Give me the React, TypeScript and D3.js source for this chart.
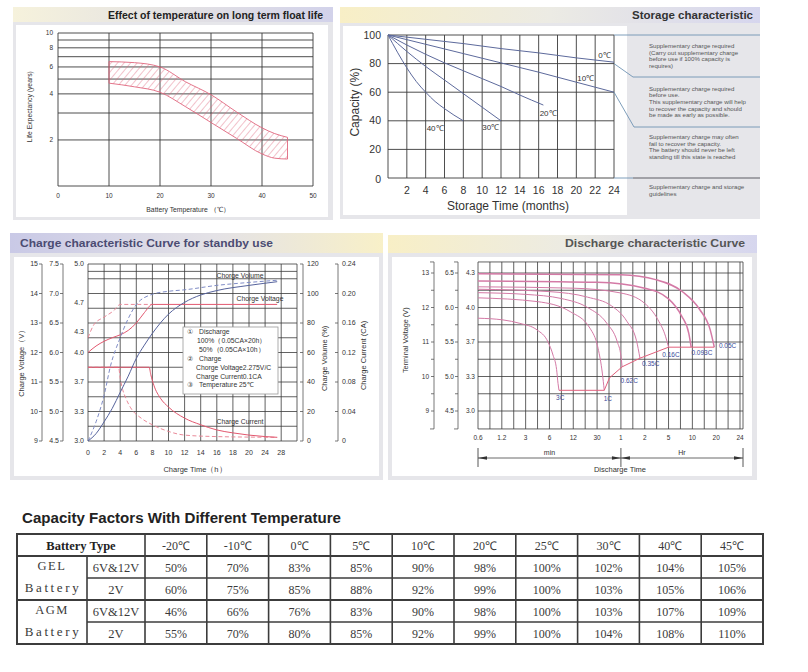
import React from 'react';
import * as d3 from 'd3';

type Pt = [number, number];

const SANS = '"Liberation Sans", Arial, Helvetica, sans-serif';
const SERIF = '"Liberation Serif", "Times New Roman", serif';
const PANEL = '#e6e6ea';
const GRID = '#3a3a3a';

// ---------- Effect of temperature on long term float life ----------
const lifeXTicks = [0, 10, 20, 30, 40, 50];
const lifeYTicks = [2, 4, 6, 8, 10];
const lifeYGrid = [2, 3, 4, 5, 6, 7, 8, 9, 10];
const lifeUpper: Pt[] = [[10, 6.5], [15, 6.4], [20, 6.0], [25, 4.8], [30, 3.95], [35, 3.05], [40, 2.4], [42.5, 2.2], [45, 2.08]];
const lifeLower: Pt[] = [[10, 4.7], [15, 4.45], [20, 4.1], [25, 3.3], [30, 2.6], [35, 2.05], [40, 1.62], [42.5, 1.52], [45, 1.5]];

// ---------- Storage characteristic ----------
const storageXTicks = [2, 4, 6, 8, 10, 12, 14, 16, 18, 20, 22, 24];
const storageYTicks = [0, 20, 40, 60, 80, 100];
const storageCurves: { name: string; at: Pt; pts: Pt[] }[] = [
  { name: '0℃', at: [23, 86], pts: [[0, 100], [4, 97], [8, 94], [12, 90.5], [16, 87.5], [20, 84], [24, 81]] },
  { name: '10℃', at: [21, 70], pts: [[0, 100], [4, 93.5], [8, 87], [12, 80.5], [16, 74], [20, 67], [24, 60]] },
  { name: '20℃', at: [17, 45.5], pts: [[0, 100], [2, 93], [4, 86.5], [6, 80.5], [8, 75], [10, 69.5], [12, 64], [14, 58], [16.5, 51]] },
  { name: '30℃', at: [10.9, 35.7], pts: [[0, 100], [2, 88.5], [4, 78], [6, 68.5], [8, 59], [10, 49.5], [12, 40]] },
  { name: '40℃', at: [5, 35], pts: [[0, 100], [1, 88], [2, 77], [3, 67.5], [4, 60], [5, 53.5], [6, 48.5], [7, 44], [8, 40]] },
];
const storageNotes = [
  ['Supplementary charge required', '(Carry out supplementary charge', 'before use if 100% capacity is', 'requires)'],
  ['Supplementary charge required', 'before use.', 'This supplementary charge will help', 'to recover the capacity and should', 'be made  as early as possible.'],
  ['Supplementary charge may often', 'fail to recover the capacity.', 'The battery should never be left', 'standing till this state is reached'],
  ['Supplementary charge and storage', 'guidelines'],
];

// ---------- Charge characteristic ----------
const chargeXTicks = [0, 2, 4, 6, 8, 10, 12, 14, 16, 18, 20, 24, 28];
const packVolts = [9, 10, 11, 12, 13, 14, 15];
const blockVolts = ['4.5', '5.0', '5.5', '6.0', '6.5', '7.0', '7.5'];
const cellVolts = ['3.0', '3.3', '3.7', '4.0', '4.3', '4.7', '5.0'];
const cellVoltsAt = [9, 10, 11, 12, 12.7, 13.7, 15];
const chargeGridV = [9, 9.5, 10, 10.5, 11, 11.5, 12, 12.5, 13, 13.5, 14, 14.5, 14.75, 15];
const volumeTicks = [0, 20, 40, 60, 80, 100, 120];
const currentTicks = [0, 0.04, 0.08, 0.12, 0.16, 0.2, 0.24];
const voltage100: Pt[] = [[0, 12.0], [1, 12.22], [2, 12.38], [3, 12.5], [4, 12.6], [5, 12.75], [6, 13.0], [7, 13.35], [8, 13.63], [27, 13.63]];
const voltage50: Pt[] = [[0, 12.5], [0.75, 12.95], [2, 13.2], [3.25, 13.43], [4, 13.63], [8, 13.63]];
const current100: Pt[] = [[0, 0.1], [7.6, 0.1], [7.8, 0.09], [8.2, 0.075], [9, 0.058], [10, 0.046], [12, 0.031], [14, 0.022], [16, 0.015], [18, 0.011], [20, 0.008], [24, 0.006], [27, 0.005]];
const current50: Pt[] = [[0, 0.1], [3.8, 0.1], [4.0, 0.085], [4.3, 0.07], [4.7, 0.058], [5.3, 0.045], [6.6, 0.031], [8, 0.022], [10, 0.013], [12, 0.008], [16, 0.006], [27, 0.005]];
const volume100: Pt[] = [[0, 0], [1, 5], [2, 13], [3, 22], [4, 33], [5, 44], [6, 56], [7, 65], [8, 73], [10, 86], [12, 94], [14, 99], [16, 102], [20, 105.5], [27, 108]];
const volume50: Pt[] = [[0, 0], [1, 13], [2, 31], [2.8, 51], [4, 70], [5, 83], [6, 92.5], [8, 99.5], [10, 101.5], [12, 102.5], [16, 105.5], [20, 107.5], [27, 109]];
const chargeNotes = [
  { mark: '①', text: 'Discharge' },
  { mark: '', text: '100%（0.05CA×20h）' },
  { mark: '', text: '50%（0.05CA×10h）' },
  { mark: '②', text: 'Charge' },
  { mark: '', text: 'Chorge Voltage2.275V/C' },
  { mark: '', text: 'Charge Current0.1CA' },
  { mark: '③', text: 'Temperature 25℃' },
];

// ---------- Discharge characteristic ----------
const dischargeXLabels = ['0.6', '1.2', '3', '6', '12', '30', '1', '2', '5', '10', '20', '24'];
const termVolts = [9, 10, 11, 12, 13];
const termBlock = ['4.5', '5.0', '5.5', '6.0', '6.5'];
const termCell = ['3.0', '3.3', '3.7', '4.0', '4.3'];
const termGrid = [9, 9.5, 10, 10.5, 11, 11.5, 12, 12.5, 13];
const dischargeCurves: { rate: string; at: Pt; pts: Pt[]; w: number }[] = [
  { rate: '3C', at: [3.45, 9.38], w: 1, pts: [[0, 11.69], [1.05, 11.64], [1.76, 11.54], [2.48, 11.35], [2.94, 11.0], [3.15, 10.62], [3.3, 10.2], [3.36, 9.8], [3.4, 9.6]] },
  { rate: '1C', at: [5.45, 9.35], w: 1, pts: [[0, 12.28], [2.5, 12.17], [3.87, 11.88], [4.7, 11.4], [5.04, 10.82], [5.22, 10.1], [5.3, 9.6]] },
  { rate: '0.62C', at: [6.35, 9.87], w: 1, pts: [[0, 12.43], [2, 12.38], [3.5, 12.26], [4.6, 12.0], [5.4, 11.55], [5.85, 11.0], [6.0, 10.6], [6.05, 10.28]] },
  { rate: '0.35C', at: [7.25, 10.36], w: 1, pts: [[0, 12.53], [3, 12.46], [4.6, 12.3], [5.6, 12.05], [6.25, 11.6], [6.65, 11.05], [6.8, 10.53]] },
  { rate: '0.16C', at: [8.1, 10.62], w: 1, pts: [[0, 12.6], [4, 12.56], [6, 12.42], [7, 12.12], [7.55, 11.65], [7.88, 11.15], [8.0, 10.85]] },
  { rate: '0.093C', at: [9.4, 10.68], w: 1.5, pts: [[0, 12.77], [5, 12.73], [7, 12.56], [8, 12.25], [8.55, 11.75], [8.85, 11.25], [8.95, 10.85]] },
  { rate: '0.05C', at: [10.48, 10.88], w: 1.5, pts: [[0, 12.98], [6, 12.95], [7.5, 12.8], [8.6, 12.45], [9.3, 11.95], [9.75, 11.35], [9.92, 10.85]] },
];
const endVoltage: Pt[] = [[3.4, 9.6], [5.3, 9.6], [5.52, 9.96], [6.05, 10.28], [6.8, 10.53], [8.0, 10.85], [8.95, 10.85], [9.92, 10.85]];

// ---------- Capacity factors table ----------
const tableTemps = ['-20℃', '-10℃', '0℃', '5℃', '10℃', '20℃', '25℃', '30℃', '40℃', '45℃'];
const gel12 = [50, 70, 83, 85, 90, 98, 100, 102, 104, 105];
const gel2 = [60, 75, 85, 88, 92, 99, 100, 103, 105, 106];
const agm12 = [46, 66, 76, 83, 90, 98, 100, 103, 107, 109];
const agm2 = [55, 70, 80, 85, 92, 99, 100, 104, 108, 110];

function FloatLife() {
  const x = d3.scaleLinear().domain([0, 50]).range([58, 313]);
  const y = d3.scaleLog().domain([1, 10]).range([186, 33]);
  const band = lifeUpper.map((d, i) => ({ t: d[0], hi: d[1], lo: lifeLower[i][1] }));
  const area = d3
    .area<{ t: number; hi: number; lo: number }>()
    .x((d) => x(d.t))
    .y0((d) => y(d.lo))
    .y1((d) => y(d.hi))
    .curve(d3.curveMonotoneX);
  return (
    <g>
      <rect x={13} y={22} width={320} height={198} fill={PANEL} />
      <rect x={13} y={7} width={320} height={15} fill="url(#gYL)" />
      <text x={323} y={19} textAnchor="end" fontSize={10} fontWeight="bold" fill="#222" textLength={215} lengthAdjust="spacingAndGlyphs">
        Effect of temperature on long term float life
      </text>
      <rect x={16} y={25} width={312} height={192} fill="#fff" />
      {lifeYGrid.map((v) => (
        <line key={v} x1={x(0)} x2={x(50)} y1={y(v)} y2={y(v)} stroke={GRID} strokeWidth={0.9} />
      ))}
      <line x1={x(0)} x2={x(50)} y1={y(1)} y2={y(1)} stroke={GRID} strokeWidth={0.9} />
      {lifeXTicks.map((v) => (
        <line key={v} x1={x(v)} x2={x(v)} y1={y(10)} y2={y(1)} stroke={GRID} strokeWidth={0.9} />
      ))}
      <path d={area(band) || ''} fill="url(#hatch)" stroke="#e0667e" strokeWidth={0.9} />
      {lifeYTicks.map((v) => (
        <text key={v} x={53} y={y(v)} dy="0.35em" textAnchor="end" fontSize={6.5} fill="#333">{v}</text>
      ))}
      {lifeXTicks.map((v) => (
        <text key={v} x={x(v)} y={198} textAnchor="middle" fontSize={6.5} fill="#333">{v}</text>
      ))}
      <text transform={`translate(32,${y(3.3)}) rotate(-90)`} textAnchor="middle" fontSize={6.8} fill="#333">Life Expectancy (years)</text>
      <text x={188} y={212} textAnchor="middle" fontSize={6.8} fill="#333">Battery Temperature （℃）</text>
    </g>
  );
}

function Storage() {
  const x = d3.scaleLinear().domain([0, 24]).range([388, 614]);
  const y = d3.scaleLinear().domain([0, 100]).range([178, 35]);
  const line = d3.line<Pt>().x((d) => x(d[0])).y((d) => y(d[1])).curve(d3.curveMonotoneX);
  const noteTops = [48, 90.5, 139, 189];
  const lead = '#6f93b3';
  return (
    <g>
      <rect x={340} y={23} width={420} height={196} fill={PANEL} />
      <rect x={340} y={7} width={420} height={16} fill="url(#gYL2)" />
      <text x={753} y={19} textAnchor="end" fontSize={11} fontWeight="bold" fill="#333" textLength={121} lengthAdjust="spacingAndGlyphs">
        Storage characteristic
      </text>
      <rect x={343} y={26} width={284} height={189} fill="#fff" />
      {storageYTicks.map((v) => (
        <line key={v} x1={x(0)} x2={x(24)} y1={y(v)} y2={y(v)} stroke={GRID} strokeWidth={0.9} />
      ))}
      {[0, ...storageXTicks].map((v) => (
        <line key={v} x1={x(v)} x2={x(v)} y1={y(100)} y2={y(0)} stroke={GRID} strokeWidth={0.9} />
      ))}
      {storageCurves.map((c) => (
        <g key={c.name}>
          <path d={line(c.pts) || ''} fill="none" stroke="#5d6a9c" strokeWidth={1} />
          <text x={x(c.at[0])} y={y(c.at[1])} dy="0.35em" textAnchor="middle" fontSize={8} fill="#333">{c.name}</text>
        </g>
      ))}
      {storageYTicks.map((v) => (
        <text key={v} x={381} y={y(v) + (v === 0 ? 1 : 0)} dy="0.35em" textAnchor="end" fontSize={10.5} fill="#333">{v}</text>
      ))}
      {storageXTicks.map((v) => (
        <text key={v} x={x(v)} y={194} textAnchor="middle" fontSize={10.5} fill="#333">{v}</text>
      ))}
      <text transform={`translate(359,${y(53)}) rotate(-90)`} textAnchor="middle" fontSize={12} fill="#333">Capacity (%)</text>
      <text x={508} y={210} textAnchor="middle" fontSize={12} fill="#333">Storage Time (months)</text>
      {/* leaders to the guideline notes */}
      <line x1={x(24)} x2={760} y1={y(100)} y2={y(100)} stroke={lead} strokeWidth={0.9} />
      <polyline points={`${x(24)},${y(80)} 633,77 760,77`} fill="none" stroke={lead} strokeWidth={0.9} />
      <polyline points={`${x(24)},${y(60)} 634,127 760,127`} fill="none" stroke={lead} strokeWidth={0.9} />
      <line x1={x(24)} x2={633} y1={y(0)} y2={y(0)} stroke={lead} strokeWidth={0.9} />
      <line x1={633} x2={760} y1={y(0)} y2={y(0)} stroke="#8a8a90" strokeWidth={1.6} />
      {storageNotes.map((block, bi) =>
        block.map((s, li) => (
          <text key={`${bi}-${li}`} x={649} y={noteTops[bi] + li * 6.7} fontSize={6.1} fill="#555">{s}</text>
        ))
      )}
    </g>
  );
}

function ChargeCurve() {
  const step = 16.1;
  const x = d3.scaleLinear().domain([0, 20, 28]).range([88, 88 + 10 * step, 88 + 12 * step]);
  const right = 297;
  const yV = d3.scaleLinear().domain([9, 15]).range([441, 264]);
  const yVol = d3.scaleLinear().domain([0, 120]).range([441, 264]);
  const yCur = d3.scaleLinear().domain([0, 0.24]).range([441, 264]);
  const lV = d3.line<Pt>().x((d) => x(d[0])).y((d) => yV(d[1])).curve(d3.curveMonotoneX);
  const lVol = d3.line<Pt>().x((d) => x(d[0])).y((d) => yVol(d[1])).curve(d3.curveMonotoneX);
  const lCur = d3.line<Pt>().x((d) => x(d[0])).y((d) => yCur(d[1])).curve(d3.curveMonotoneX);
  const red = '#e2586f';
  const redD = '#ea8a99';
  const blue = '#56639c';
  const blueD = '#7f8cc6';
  const fs = 7;
  return (
    <g>
      <rect x={10} y={253} width={373} height={227} fill={PANEL} />
      <rect x={10} y={233} width={373} height={20} fill="url(#gLY)" />
      <text x={20} y={247} fontSize={11} fontWeight="bold" fill="#4b4b72" textLength={253} lengthAdjust="spacingAndGlyphs">
        Charge characteristic Curve for standby use
      </text>
      <rect x={14} y={257} width={365} height={219} fill="#fff" />
      {chargeGridV.map((v) => (
        <line key={v} x1={x(0)} x2={right} y1={yV(v)} y2={yV(v)} stroke={GRID} strokeWidth={0.8} />
      ))}
      {chargeXTicks.map((v) => (
        <line key={v} x1={x(v)} x2={x(v)} y1={yV(15)} y2={yV(9)} stroke={GRID} strokeWidth={0.8} />
      ))}
      <line x1={right} x2={right} y1={yV(15)} y2={yV(9)} stroke={GRID} strokeWidth={0.8} />
      {/* notes box */}
      <rect x={183} y={327} width={95} height={67} fill="#fff" stroke="#9a9a9a" strokeWidth={0.8} />
      {chargeNotes.map((n, i) => (
        <g key={i}>
          {n.mark && <text x={187} y={334 + i * 8.9} fontSize={7} fill="#444">{n.mark}</text>}
          <text x={n.mark ? 199 : i === 1 || i === 2 ? 197 + (i === 2 ? 2 : 0) : 196} y={334 + i * 8.9} fontSize={6.8} fill="#333">{n.text}</text>
        </g>
      ))}
      {/* curves */}
      <path d={lCur(current50) || ''} fill="none" stroke={redD} strokeWidth={1} strokeDasharray="4 2.5" />
      <path d={lCur(current100) || ''} fill="none" stroke={red} strokeWidth={1} />
      <path d={lV(voltage50) || ''} fill="none" stroke={redD} strokeWidth={1} strokeDasharray="4 2.5" />
      <path d={lV(voltage100) || ''} fill="none" stroke={red} strokeWidth={1} />
      <path d={lVol(volume50) || ''} fill="none" stroke={blueD} strokeWidth={1} strokeDasharray="4 2.5" />
      <path d={lVol(volume100) || ''} fill="none" stroke={blue} strokeWidth={1} />
      <text x={240} y={278} textAnchor="middle" fontSize={6.8} fill="#333">Chorge Volume</text>
      <text x={260} y={301} textAnchor="middle" fontSize={6.8} fill="#333">Chorge Voltage</text>
      <text x={240} y={424} textAnchor="middle" fontSize={6.8} fill="#333">Charge Current</text>
      {/* left axes */}
      <line x1={42} x2={42} y1={yV(15)} y2={yV(9)} stroke="#555" strokeWidth={0.8} />
      <line x1={63} x2={63} y1={yV(15)} y2={yV(9)} stroke="#555" strokeWidth={0.8} />
      {packVolts.map((v, i) => (
        <g key={v}>
          <line x1={39} x2={42} y1={yV(v)} y2={yV(v)} stroke="#555" strokeWidth={0.8} />
          <line x1={60} x2={63} y1={yV(v)} y2={yV(v)} stroke="#555" strokeWidth={0.8} />
          <text x={38} y={yV(v)} dy="0.35em" textAnchor="end" fontSize={fs} fill="#333">{v}</text>
          <text x={59} y={yV(v)} dy="0.35em" textAnchor="end" fontSize={fs} fill="#333">{blockVolts[i]}</text>
          <text x={84} y={yV(cellVoltsAt[i])} dy="0.35em" textAnchor="end" fontSize={fs} fill="#333">{cellVolts[i]}</text>
        </g>
      ))}
      <text transform={`translate(24,${yV(11.7)}) rotate(-90)`} textAnchor="middle" fontSize={7.5} fill="#333">Charge Votage（V）</text>
      {/* right axes */}
      <line x1={303} x2={303} y1={yVol(120)} y2={yVol(0)} stroke="#555" strokeWidth={0.8} />
      <line x1={338} x2={338} y1={yCur(0.24)} y2={yCur(0)} stroke="#555" strokeWidth={0.8} />
      {volumeTicks.map((v) => (
        <g key={v}>
          <line x1={300} x2={303} y1={yVol(v)} y2={yVol(v)} stroke="#555" strokeWidth={0.8} />
          <text x={307} y={yVol(v)} dy="0.35em" fontSize={fs} fill="#333">{v}</text>
        </g>
      ))}
      {currentTicks.map((v) => (
        <g key={v}>
          <line x1={335} x2={338} y1={yCur(v)} y2={yCur(v)} stroke="#555" strokeWidth={0.8} />
          <text x={342} y={yCur(v)} dy="0.35em" fontSize={fs} fill="#333">{v === 0 ? '0' : v.toFixed(2)}</text>
        </g>
      ))}
      <text transform={`translate(327,${yVol(56)}) rotate(-90)`} textAnchor="middle" fontSize={7.5} fill="#333">Charge Volume (%)</text>
      <text transform={`translate(366,${yVol(58)}) rotate(-90)`} textAnchor="middle" fontSize={7.5} fill="#333">Charge Current (CA)</text>
      {chargeXTicks.map((v) => (
        <text key={v} x={x(v)} y={455} textAnchor="middle" fontSize={fs} fill="#333">{v}</text>
      ))}
      <text x={195} y={472} textAnchor="middle" fontSize={7.5} fill="#333">Charge Time（h）</text>
    </g>
  );
}

function DischargeCurve() {
  const x = d3.scaleLinear().domain([0, 11]).range([478, 740]);
  const y = d3.scaleLinear().domain([9, 13]).range([411, 273]);
  const top = y(13.32);
  const bottom = y(8.48);
  const right = 743;
  const line = d3.line<Pt>().x((d) => x(d[0])).y((d) => y(d[1])).curve(d3.curveMonotoneX);
  const idx = dischargeXLabels.map((_, i) => i);
  const minor = idx.slice(0, -1).map((i) => i + 0.5);
  const pink = '#d47aa6';
  const fs = 6.5;
  const arrowY = 458;
  const split = x(6);
  return (
    <g>
      <rect x={388} y={253} width={369} height={227} fill={PANEL} />
      <rect x={388} y={235} width={369} height={18} fill="url(#gYL2)" />
      <text x={745} y={247} textAnchor="end" fontSize={11} fontWeight="bold" fill="#555" textLength={180} lengthAdjust="spacingAndGlyphs">
        Discharge characteristic Curve
      </text>
      <rect x={392} y={257} width={360} height={219} fill="#fff" />
      {termGrid.map((v) => (
        <line key={v} x1={x(0)} x2={right} y1={y(v)} y2={y(v)} stroke={GRID} strokeWidth={0.8} />
      ))}
      <line x1={x(0)} x2={right} y1={top} y2={top} stroke={GRID} strokeWidth={0.8} />
      <line x1={x(0)} x2={right} y1={bottom} y2={bottom} stroke={GRID} strokeWidth={0.8} />
      {[...idx, ...minor].map((i) => (
        <line key={i} x1={x(i)} x2={x(i)} y1={top} y2={bottom} stroke={GRID} strokeWidth={0.8} />
      ))}
      <line x1={right} x2={right} y1={top} y2={bottom} stroke={GRID} strokeWidth={0.8} />
      {dischargeCurves.map((c) => (
        <path key={c.rate} d={line(c.pts) || ''} fill="none" stroke={pink} strokeWidth={c.w} />
      ))}
      <path d={d3.line<Pt>().x((d) => x(d[0])).y((d) => y(d[1]))(endVoltage) || ''} fill="none" stroke="#e2607c" strokeWidth={1} />
      {dischargeCurves.map((c) => (
        <text key={c.rate} x={x(c.at[0])} y={y(c.at[1])} dy="0.35em" textAnchor="middle" fontSize={6.5} fill="#3a4a9a">{c.rate}</text>
      ))}
      {/* left axes */}
      {[434, 458].map((ax) => (
        <g key={ax}>
          <line x1={ax} x2={ax} y1={top} y2={bottom} stroke="#555" strokeWidth={0.8} />
          <line x1={ax - 4} x2={ax} y1={top} y2={top} stroke="#555" strokeWidth={0.8} />
          <line x1={ax - 4} x2={ax} y1={bottom} y2={bottom} stroke="#555" strokeWidth={0.8} />
          {termGrid.map((v) => (
            <line key={v} x1={ax - 3} x2={ax} y1={y(v)} y2={y(v)} stroke="#555" strokeWidth={0.8} />
          ))}
        </g>
      ))}
      {termVolts.map((v, i) => (
        <g key={v}>
          <text x={429} y={y(v)} dy="0.35em" textAnchor="end" fontSize={fs} fill="#333">{v}</text>
          <text x={454} y={y(v)} dy="0.35em" textAnchor="end" fontSize={fs} fill="#333">{termBlock[i]}</text>
          <text x={475} y={y(v)} dy="0.35em" textAnchor="end" fontSize={fs} fill="#333">{termCell[i]}</text>
        </g>
      ))}
      <text transform={`translate(408,${y(11.05)}) rotate(-90)`} textAnchor="middle" fontSize={7.3} fill="#333">Terminal Voltage (V)</text>
      {dischargeXLabels.map((s, i) => (
        <text key={i} x={x(i)} y={440} textAnchor="middle" fontSize={fs} fill="#333">{s}</text>
      ))}
      {/* min / Hr brackets */}
      {[x(0), split, right].map((px) => (
        <line key={px} x1={px} x2={px} y1={448} y2={467} stroke="#444" strokeWidth={0.9} />
      ))}
      <line x1={x(0)} x2={right} y1={arrowY} y2={arrowY} stroke="#444" strokeWidth={0.8} />
      <polygon points={`${x(0)},${arrowY} ${x(0) + 9},${arrowY - 1.8} ${x(0) + 9},${arrowY + 1.8}`} fill="#333" />
      <polygon points={`${split},${arrowY} ${split - 9},${arrowY - 1.8} ${split - 9},${arrowY + 1.8}`} fill="#333" />
      <polygon points={`${split},${arrowY} ${split + 9},${arrowY - 1.8} ${split + 9},${arrowY + 1.8}`} fill="#333" />
      <polygon points={`${right},${arrowY} ${right - 9},${arrowY - 1.8} ${right - 9},${arrowY + 1.8}`} fill="#333" />
      <text x={(x(0) + split) / 2} y={455} textAnchor="middle" fontSize={7} fill="#333">min</text>
      <text x={(split + right) / 2} y={455} textAnchor="middle" fontSize={7} fill="#333">Hr</text>
      <text x={620} y={472} textAnchor="middle" fontSize={7.5} fill="#333">Discharge Time</text>
    </g>
  );
}

function CapacityTable() {
  const col = d3.scaleBand<string>().domain(tableTemps).range([145, 763]);
  const rowKeys = ['head', 'g12', 'g2', 'a12', 'a2'];
  const row = d3.scaleBand<string>().domain(rowKeys).range([534, 644]);
  const rh = row.bandwidth();
  const values: Record<string, number[]> = { g12: gel12, g2: gel2, a12: agm12, a2: agm2 };
  const sub: Record<string, string> = { g12: '6V&12V', g2: '2V', a12: '6V&12V', a2: '2V' };
  const L = 17, C1 = 87, C2 = 145, R = 763;
  const ink = '#3a3a3a';
  const border = '#3c3c3c';
  const mid = (k: string) => (row(k) || 0) + rh / 2;
  return (
    <g fontFamily={SERIF}>
      <text x={22} y={523} fontFamily={SANS} fontSize={14.5} fontWeight="bold" fill="#222" textLength={319} lengthAdjust="spacingAndGlyphs">
        Capacity Factors With Different Temperature
      </text>
      {/* inner lines */}
      {['g12', 'a12'].map((k) => (
        <line key={k} x1={L} x2={R} y1={row(k)} y2={row(k)} stroke={border} strokeWidth={1.8} />
      ))}
      {['g2', 'a2'].map((k) => (
        <line key={k} x1={C1} x2={R} y1={row(k)} y2={row(k)} stroke={border} strokeWidth={1.4} />
      ))}
      <line x1={C1} x2={C1} y1={row('g12')} y2={644} stroke={border} strokeWidth={1.6} />
      {tableTemps.map((t) => (
        <line key={t} x1={col(t)} x2={col(t)} y1={534} y2={644} stroke={border} strokeWidth={1.6} />
      ))}
      <rect x={L} y={534} width={R - L} height={110} fill="none" stroke={border} strokeWidth={2} />
      {/* header */}
      <text x={(L + C2) / 2} y={mid('head') + 4.5} textAnchor="middle" fontSize={12.5} fontWeight="bold" fill="#222">Battery Type</text>
      {tableTemps.map((t) => (
        <text key={t} x={(col(t) || 0) + col.bandwidth() / 2} y={mid('head') + 4.5} textAnchor="middle" fontSize={12} fill={ink}>{t}</text>
      ))}
      {/* battery groups */}
      {[['GEL', 'g12', 'g2'], ['AGM', 'a12', 'a2']].map(([name, k1, k2]) => (
        <g key={name}>
          <text x={(L + C1) / 2} y={mid(k1) + 3} textAnchor="middle" fontSize={12.5} letterSpacing={1.5} fill={ink}>{name}</text>
          <text x={(L + C1) / 2 + 1} y={mid(k2) + 2.5} textAnchor="middle" fontSize={13} letterSpacing={2.6} fill={ink}>Battery</text>
        </g>
      ))}
      {rowKeys.slice(1).map((k) => (
        <g key={k}>
          <text x={(C1 + C2) / 2} y={mid(k) + 4.5} textAnchor="middle" fontSize={12.5} fill={ink}>{sub[k]}</text>
          {values[k].map((v, i) => (
            <text key={i} x={(col(tableTemps[i]) || 0) + col.bandwidth() / 2} y={mid(k) + 4.5} textAnchor="middle" fontSize={12} fill={ink}>{`${v}%`}</text>
          ))}
        </g>
      ))}
    </g>
  );
}

export default function App() {
  return (
    <svg
      width={808}
      height={672}
      viewBox="0 0 808 672"
      fontFamily={SANS}
      style={{ position: 'absolute', left: 0, top: 0, background: '#fff' }}
    >
      <defs>
        <linearGradient id="gYL" x1="0" x2="1" y1="0" y2="0">
          <stop offset="0" stopColor="#f6f2dc" />
          <stop offset="1" stopColor="#d2d2ea" />
        </linearGradient>
        <linearGradient id="gYL2" x1="0" x2="1" y1="0" y2="0">
          <stop offset="0" stopColor="#f8efc6" />
          <stop offset="0.5" stopColor="#ecebe4" />
          <stop offset="1" stopColor="#d6d6ee" />
        </linearGradient>
        <linearGradient id="gLY" x1="0" x2="1" y1="0" y2="0">
          <stop offset="0" stopColor="#c9c9e6" />
          <stop offset="0.55" stopColor="#e4e2e6" />
          <stop offset="1" stopColor="#f8f0c8" />
        </linearGradient>
        <pattern id="hatch" width={5} height={5} patternUnits="userSpaceOnUse" patternTransform="rotate(40)">
          <line x1={0} y1={0} x2={0} y2={5} stroke="#e0667e" strokeWidth={0.8} />
        </pattern>
      </defs>
      <FloatLife />
      <Storage />
      <ChargeCurve />
      <DischargeCurve />
      <CapacityTable />
    </svg>
  );
}
